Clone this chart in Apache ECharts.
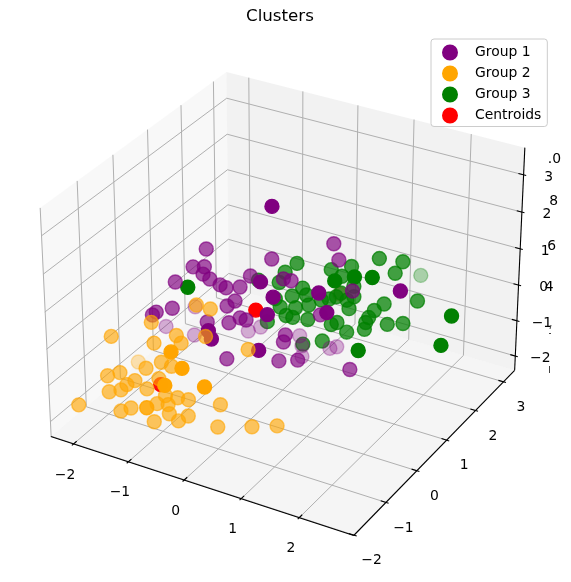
<!DOCTYPE html>
<html>
<head>
<meta charset="utf-8">
<script src="https://cdn.jsdelivr.net/npm/echarts@6.0.0/dist/echarts.min.js"></script>
<style>
html,body{margin:0;padding:0;background:#ffffff;}
#chart{width:571px;height:582px;}
</style>
</head>
<body>
<div id="chart"></div>
<script>
// ---------------- data: [x, y, z] ----------------
const seriesNames = ['Group 1', 'Group 2', 'Group 3', 'Centroids'];

const group1 = [
  [0.09,0.52,3.02],[-1.04,0.44,1.47],[0.64,1.48,1.57],[-0.13,0.89,1.26],[0.77,1.41,1.24],
  [-1.15,0.22,1.10],[-1.00,0.31,1.10],[-0.99,0.25,0.95],[-0.88,0.27,0.85],[-1.33,-0.02,0.79],
  [-0.72,0.31,0.73],[-0.63,0.34,0.67],[-0.45,0.46,0.68],[-0.35,0.61,0.91],[0.22,-0.06,1.50],
  [0.10,0.85,0.85],[0.21,0.90,0.81],[1.02,0.32,1.27],[1.07,1.31,0.60],[2.08,0.96,1.31],
  [0.44,-0.06,1.19],[-0.46,0.32,0.40],[-0.55,0.23,0.29],[-1.44,0.73,-0.51],[-1.27,-0.22,0.25],
  [-1.51,-0.42,0.11],[-1.47,-0.37,0.17],[-1.76,0.36,-0.92],[-1.34,0.53,-1.10],[-0.75,-0.04,-0.03],
  [-0.28,-0.78,0.52],[-0.21,-0.81,0.35],[-0.46,0.13,-0.05],[-0.33,0.25,0.05],[-0.24,0.28,0.01],
  [-0.62,0.99,-1.02],[-0.47,1.12,-0.94],[0.43,-0.22,0.84],[0.45,-0.52,0.12],[-0.35,-0.13,-0.79],
  [0.35,0.27,-0.84],[0.34,0.49,-0.30],[0.34,0.43,-0.45],[0.60,0.42,-0.82],[0.10,1.37,-1.12],
  [0.17,1.32,-1.33],[1.20,0.25,0.88],[0.73,0.90,0.11],[0.56,1.53,-1.39],[0.65,1.59,-1.35],
  [0.21,1.25,-1.56],[1.33,0.77,-1.02]
];

const group2 = [
  [-0.78,-0.30,0.62],[-0.58,-0.22,0.54],[-1.31,-0.77,0.27],[-1.79,-1.17,-0.02],[-0.93,-0.66,0.00],
  [-1.20,-0.88,-0.16],[-0.84,-0.67,-0.16],[-0.44,-1.60,0.52],[-0.54,-0.44,-0.02],[-1.79,-0.43,-1.31],
  [-1.03,-0.95,-0.55],[-1.21,-1.11,-0.67],[-0.88,-0.90,-0.63],[-0.24,-1.62,0.19],[-1.69,-1.46,-0.82],
  [-1.54,-1.34,-0.76],[-1.40,-1.37,-1.00],[-1.61,-1.55,-1.15],[-1.31,-1.28,-0.92],[-1.12,-1.24,-1.09],
  [-1.00,-1.08,-0.88],[-0.40,-1.86,-0.15],[-1.46,-1.45,-1.11],[-1.96,-1.88,-1.41],[-1.38,-1.59,-1.54],
  [-1.26,-1.49,-1.48],[-0.72,-1.88,-0.89],[-0.93,-1.26,-1.39],[-0.78,-1.18,-1.41],[-0.73,-1.23,-1.60],
  [-0.90,-1.40,-1.76],[-0.58,-1.21,-1.74],[-0.47,-1.10,-1.64],[-0.68,-1.06,-1.27],[-0.53,-0.99,-1.31],
  [-0.85,-1.14,-1.23],[0.12,-1.57,-0.18],[-0.09,-0.77,-1.42],[-0.04,-0.94,-1.87],[0.41,-0.67,-1.87],
  [0.74,-0.47,-1.85],[0.07,-0.19,-0.29]
];

const group3 = [
  [-1.26,0.23,0.49],[-0.12,1.67,0.57],[-0.25,1.52,0.38],[-0.29,1.40,0.17],[0.37,1.90,0.44],
  [0.63,2.09,0.50],[0.98,2.36,0.67],[1.31,2.53,0.60],[0.69,1.43,0.62],[0.54,1.94,0.30],
  [0.94,1.61,0.70],[0.74,1.97,0.09],[1.18,1.75,0.69],[1.25,2.39,0.36],[1.25,3.29,-0.37],
  [0.05,1.55,0.05],[0.13,1.53,-0.09],[-0.06,1.41,-0.11],[-0.28,1.26,-0.17],[-0.18,1.24,-0.34],
  [0.03,1.36,-0.36],[0.20,1.48,-0.30],[0.35,1.62,-0.20],[0.45,1.69,-0.18],[0.54,1.76,-0.13],
  [0.59,1.82,-0.05],[0.70,1.82,-0.20],[0.78,1.90,-0.13],[0.76,1.78,-0.38],[1.22,2.09,-0.28],
  [1.11,1.97,-0.42],[1.06,1.88,-0.57],[1.04,1.82,-0.67],[1.34,1.98,-0.71],[1.55,2.11,-0.69],
  [1.66,2.38,-0.22],[2.39,2.12,-0.11],[2.36,1.84,-0.72],[-0.07,1.23,-0.52],[0.03,1.27,-0.56],
  [0.24,1.38,-0.61],[0.58,1.53,-0.71],[0.65,1.59,-0.67],[0.82,1.60,-0.87],[1.05,1.76,-0.81],
  [0.27,1.17,-1.12],[0.52,1.35,-1.06],[1.27,1.15,-0.82],[-0.58,1.25,0.22],[-0.30,1.04,-0.65]
];

const centroids = [
  [0.00,0.17,0.47],[-1.02,-1.00,-1.12],[0.58,1.80,-0.07]
];

const xTicks = [-2,-1,0,1,2];
const yTicks = [-2,-1,0,1,2,3];
const zTicks = [-2,-1,0,1,2,3];
const xLimits = [-2.42, 2.92];
const yLimits = [-2.01, 3.41];
const zLimits = [-2.41, 3.72];
const strayLabels = ['.0','8','6','4'];

// ---------------- styling / layout ----------------
const COLORS = ['#800080','#ffa500','#008000','#ff0000'];
const SERIES_Z = [4, 5, 3, 2];
const FONT = 'DejaVu Sans';
const W = 571, H = 582;
const PLACE = {cx: 287, cy: 292.6, scale: 2915};
const LABEL_OFF = {x: [-8.4, 31], y: [17.5, 25.5], z: [25, 2.5]};
const STRAY_POS = [[561,159],[558,201],[556,246],[553.5,287.5]];
const STRAY_MARKS = [[551,325,550,329],[549,333.5,551,333.5],[549.5,366,549.5,373]];

// ---------------- matplotlib-like 3D camera ----------------
const ELEV = 30, AZIM = -60, DIST = 10;
const deg = Math.PI / 180;
const wv = [Math.cos(ELEV*deg)*Math.cos(AZIM*deg), Math.cos(ELEV*deg)*Math.sin(AZIM*deg), Math.sin(ELEV*deg)];
const uRaw = [-wv[1], wv[0], 0];
const un = Math.hypot(uRaw[0], uRaw[1], uRaw[2]);
const uv = uRaw.map(a => a / un);
const vv = [wv[1]*uv[2]-wv[2]*uv[1], wv[2]*uv[0]-wv[0]*uv[2], wv[0]*uv[1]-wv[1]*uv[0]];
let box = [4,4,3];
const bn = Math.hypot(box[0], box[1], box[2]);
box = box.map(a => a * 1.8294640721620434 * 25 / 24 / bn);
const lims = [xLimits, yLimits, zLimits];
const dot = (a,b) => a[0]*b[0] + a[1]*b[1] + a[2]*b[2];
function project(p) {
  const q = p.map((val,i) => (val - lims[i][0]) / (lims[i][1] - lims[i][0]) * box[i] - box[i]/2);
  const depth = DIST - dot(wv, q);
  return [dot(uv, q) / depth, dot(vv, q) / depth, depth];
}

// ---------------- frame primitives (panes, grid, axes, ticks, labels) ----------------
const [x0,x1] = xLimits, [y0,y1] = yLimits, [z0,z1] = zLimits;
const frame = [];
frame.push({k:'poly', pts:[[x0,y0,z0],[x0,y1,z0],[x0,y1,z1],[x0,y0,z1]], fill:'rgba(242,242,242,0.5)'});
frame.push({k:'poly', pts:[[x0,y1,z0],[x1,y1,z0],[x1,y1,z1],[x0,y1,z1]], fill:'rgba(230,230,230,0.5)'});
frame.push({k:'poly', pts:[[x0,y0,z0],[x1,y0,z0],[x1,y1,z0],[x0,y1,z0]], fill:'rgba(236,236,236,0.5)'});
const GRID = '#b0b0b0';
xTicks.forEach(t => frame.push({k:'path', pts:[[t,y0,z0],[t,y1,z0],[t,y1,z1]], stroke:GRID, w:1}));
yTicks.forEach(t => frame.push({k:'path', pts:[[x1,t,z0],[x0,t,z0],[x0,t,z1]], stroke:GRID, w:1}));
zTicks.forEach(t => frame.push({k:'path', pts:[[x0,y0,t],[x0,y1,t],[x1,y1,t]], stroke:GRID, w:1}));
frame.push({k:'path', pts:[[x0,y0,z0],[x1,y0,z0]], stroke:'#000', w:1.1});
frame.push({k:'path', pts:[[x1,y0,z0],[x1,y1,z0]], stroke:'#000', w:1.1});
frame.push({k:'path', pts:[[x1,y1,z0],[x1,y1,z1]], stroke:'#000', w:1.1});
const dx = (x1-x0)/12, dy = (y1-y0)/12;
xTicks.forEach(t => frame.push({k:'path', pts:[[t,y0+0.2*dy,z0],[t,y0-0.1*dy,z0]], stroke:'#000', w:1.1}));
yTicks.forEach(t => frame.push({k:'path', pts:[[x1-0.2*dx,t,z0],[x1+0.1*dx,t,z0]], stroke:'#000', w:1.1}));
zTicks.forEach(t => frame.push({k:'path', pts:[[x1-0.2*dx,y1,t],[x1+0.1*dx,y1,t]], stroke:'#000', w:1.1}));
const fmt = t => (t < 0 ? '\u2212' + Math.abs(t) : String(t));
xTicks.forEach(t => frame.push({k:'text', at:[t,y0,z0], off:LABEL_OFF.x, text:fmt(t)}));
yTicks.forEach(t => frame.push({k:'text', at:[x1,t,z0], off:LABEL_OFF.y, text:fmt(t)}));
zTicks.forEach(t => frame.push({k:'text', at:[x1,y1,t], off:LABEL_OFF.z, text:fmt(t)}));

function renderFrame(params, api) {
  const p = frame[params.dataIndex];
  const toPx = pt => { const s = project(pt); return api.coord([s[0], s[1]]); };
  if (p.k === 'poly') {
    return {type:'polygon', silent:true, shape:{points:p.pts.map(toPx)}, style:{fill:p.fill, stroke:null}};
  }
  if (p.k === 'path') {
    return {type:'polyline', silent:true, shape:{points:p.pts.map(toPx)}, style:{stroke:p.stroke, lineWidth:p.w, fill:null}};
  }
  const c = toPx(p.at);
  return {type:'text', silent:true, x:c[0]+p.off[0], y:c[1]+p.off[1],
    style:{text:p.text, fill:'#000', fontSize:13.9, fontFamily:FONT, align:'center', verticalAlign:'middle'}};
}

// ---------------- scatter series with depth shading ----------------
function buildSeries(name, pts, color, z) {
  const pr = pts.map(p => project(p));
  const ds = pr.map(r => r[2]);
  const dmin = Math.min(...ds), dmax = Math.max(...ds);
  const items = pr.map(r => ({
    value:[r[0], r[1]], depth:r[2],
    itemStyle:{opacity: dmax > dmin ? 1 - 0.7*(r[2]-dmin)/(dmax-dmin) : 1}
  }));
  items.sort((a,b) => b.depth - a.depth);
  return {
    type:'scatter', name, z, silent:true, animation:false,
    symbol:'circle', symbolSize:14,
    itemStyle:{color, borderColor:color, borderWidth:1.4, opacity:1},
    data: items.map(it => ({value:it.value, itemStyle:it.itemStyle}))
  };
}

const groups = [group1, group2, group3, centroids];
const scatterSeries = groups.map((g,i) => buildSeries(seriesNames[i], g, COLORS[i], SERIES_Z[i]));

const strayGraphics = strayLabels.map((t,i) => ({
  type:'text', x:STRAY_POS[i][0], y:STRAY_POS[i][1], z:100, silent:true,
  style:{text:t, fill:'#000', fontSize:13.9, fontFamily:FONT, align:'right', verticalAlign:'middle'}
})).concat(STRAY_MARKS.map(m => ({
  type:'line', z:100, silent:true, shape:{x1:m[0], y1:m[1], x2:m[2], y2:m[3]},
  style:{stroke:'#444', lineWidth:1}
})));

const chart = echarts.init(document.getElementById('chart'), null, {renderer:'canvas', width:W, height:H});
chart.setOption({
  animation:false,
  backgroundColor:'#ffffff',
  title:{text:'Clusters', left:246, top:8, padding:0,
    textStyle:{fontSize:16.7, fontWeight:'normal', color:'#000', fontFamily:FONT}},
  legend:{
    data:seriesNames, orient:'vertical', left:431, top:39,
    padding:[5.5,6,3,11], itemGap:5, itemWidth:14, itemHeight:14, icon:'circle',
    itemStyle:{opacity:1},
    backgroundColor:'rgba(255,255,255,0.8)', borderColor:'#cccccc', borderWidth:1, borderRadius:3,
    selectedMode:false,
    textStyle:{color:'#000', fontSize:13.9, fontFamily:FONT, padding:[0,0,0,13]}
  },
  grid:{left:0, right:0, top:0, bottom:0},
  xAxis:{type:'value', show:false, min:-PLACE.cx/PLACE.scale, max:(W-PLACE.cx)/PLACE.scale},
  yAxis:{type:'value', show:false, min:-(H-PLACE.cy)/PLACE.scale, max:PLACE.cy/PLACE.scale},
  graphic: strayGraphics,
  series:[
    {type:'custom', name:'axes3d', z:1, silent:true, clip:false, animation:false,
     renderItem:renderFrame, data:frame.map(() => [0,0])},
    ...scatterSeries
  ]
});
</script>
</body>
</html>
